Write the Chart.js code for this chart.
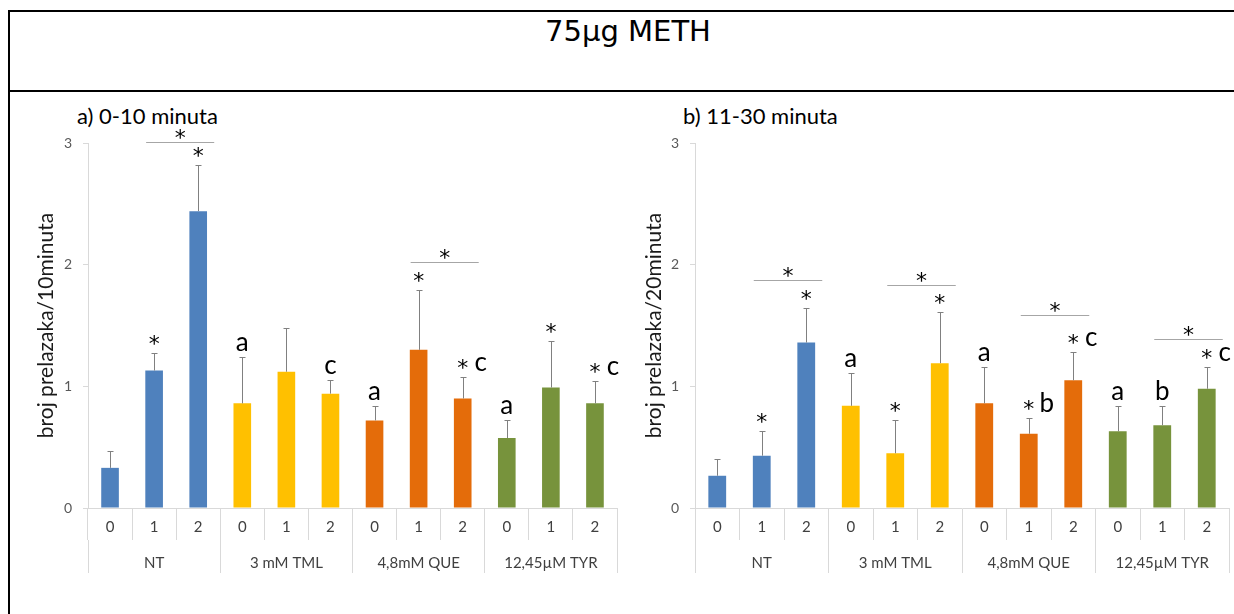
<!DOCTYPE html>
<html>
<head>
<meta charset="utf-8">
<script src="https://cdn.jsdelivr.net/npm/chart.js@4.4.1/dist/chart.umd.min.js"></script>
<style>
  html, body { margin: 0; padding: 0; background: #fff; }
  body { width: 1234px; height: 614px; position: relative; overflow: hidden;
         font-family: Lato, "Liberation Sans", sans-serif; }
  .rule { position: absolute; background: #000; }
  #title { position: absolute; left: 428px; width: 400px; top: 13px; line-height: 36px;
           text-align: center; font-family: "DejaVu Sans", sans-serif; font-size: 29px; color: #000; }
  .sub { position: absolute; top: 103px; font-size: 22px; line-height: 26px; color: #000; }
  canvas { position: absolute; }
</style>
</head>
<body>
<div class="rule" style="left:8px;top:10px;width:1226px;height:2px"></div>
<div class="rule" style="left:8px;top:90px;width:1226px;height:2px"></div>
<div class="rule" style="left:8px;top:10px;width:2px;height:604px"></div>
<div id="title">75µg METH</div>
<div class="sub" style="left:77px">a) 0-10 minuta</div>
<div class="sub" style="left:683px">b) 11-30 minuta</div>
<canvas id="chartA" width="612" height="521" style="left:10px;top:93px"></canvas>
<canvas id="chartB" width="612" height="521" style="left:622px;top:93px"></canvas>

<script>
// Categories: dose level within each treatment group
const subLabels = ['0', '1', '2', '0', '1', '2', '0', '1', '2', '0', '1', '2'];
const groupLabels = ['NT', '3 mM TML', '4,8mM QUE', '12,45µM TYR'];
const groupColors = ['#4f81bd', '#ffc000', '#e46c0a', '#77933c'];

// a) 0-10 minuta
const meansA = [0.33, 1.13, 2.44, 0.86, 1.12, 0.94, 0.72, 1.30, 0.90, 0.575, 0.99, 0.86];
const errA   = [0.14, 0.14, 0.38, 0.38, 0.36, 0.11, 0.12, 0.49, 0.18, 0.145, 0.38, 0.18];
const starsA   = [0, 1, 1, 0, 0, 0, 0, 1, 1, 0, 1, 1];
const lettersA = ['', '', '', 'a', '', 'c', 'a', '', 'c', 'a', '', 'c'];
const bracketsA = [[1, 2, 3.01], [7, 8, 2.02]];

// b) 11-30 minuta
const meansB = [0.265, 0.43, 1.36, 0.84, 0.45, 1.19, 0.86, 0.61, 1.05, 0.63, 0.68, 0.98];
const errB   = [0.135, 0.20, 0.28, 0.27, 0.27, 0.42, 0.30, 0.13, 0.23, 0.21, 0.16, 0.18];
const starsB   = [0, 1, 1, 0, 1, 1, 0, 1, 1, 0, 0, 1];
const lettersB = ['', '', '', 'a', '', '', 'a', 'b', 'c', 'a', 'b', 'c'];
const bracketsB = [[1, 2, 1.87], [4, 5, 1.83], [7, 8, 1.59], [10, 11, 1.39]];

const FONT = 'Lato, "Liberation Sans", sans-serif';
const STAR_FONT = '22px "DejaVu Sans", sans-serif';
Chart.defaults.font.family = FONT;

const barColors = subLabels.map((_, i) => groupColors[Math.floor(i / 3)]);

// Error bars, significance letters/asterisks and comparison brackets
function makeMarks(means, errs, stars, letters, brackets) {
  return {
    id: 'marks',
    afterDatasetsDraw(chart) {
      const ctx = chart.ctx;
      const y = chart.scales.y;
      const bars = chart.getDatasetMeta(0).data;
      ctx.save();
      ctx.textAlign = 'center';
      ctx.textBaseline = 'alphabetic';
      bars.forEach((bar, i) => {
        const top = Math.round(y.getPixelForValue(means[i] + errs[i])) + 0.5;
        const x = Math.round(bar.x) + 0.5;
        ctx.strokeStyle = '#808080';
        ctx.lineWidth = 1;
        ctx.beginPath();
        ctx.moveTo(x, bar.y);
        ctx.lineTo(x, top);
        ctx.moveTo(x - 3, top);
        ctx.lineTo(x + 3, top);
        ctx.stroke();

        ctx.fillStyle = '#000';
        if (stars[i]) {
          ctx.font = STAR_FONT;
          ctx.fillText('*', bar.x, top - 3);
        }
        if (letters[i]) {
          ctx.font = '26px ' + FONT;
          ctx.fillText(letters[i], stars[i] ? bar.x + 18 : bar.x, top - 7);
        }
      });
      brackets.forEach(([from, to, level]) => {
        const yy = Math.round(y.getPixelForValue(level)) + 0.5;
        const x1 = bars[from].x - 8, x2 = bars[to].x + 16;
        ctx.strokeStyle = '#a6a6a6';
        ctx.lineWidth = 1;
        ctx.beginPath();
        ctx.moveTo(x1, yy);
        ctx.lineTo(x2, yy);
        ctx.stroke();
        ctx.fillStyle = '#000';
        ctx.font = STAR_FONT;
        ctx.fillText('*', (x1 + x2) / 2, yy + 2);
      });
      ctx.restore();
    }
  };
}

function buildChart(id, means, errs, stars, letters, brackets, yTitle, padLeft, axisWidth) {
  return new Chart(document.getElementById(id), {
    type: 'bar',
    data: {
      labels: subLabels,
      datasets: [{
        data: means,
        backgroundColor: barColors,
        borderWidth: 0,
        barPercentage: 0.4,
        categoryPercentage: 1.0
      }]
    },
    options: {
      responsive: false,
      animation: false,
      events: [],
      layout: { padding: { left: padLeft, right: 5, top: 50, bottom: 38 } },
      plugins: { legend: { display: false }, tooltip: { enabled: false }, title: { display: false } },
      scales: {
        x: {
          type: 'category',
          offset: true,
          weight: 0,
          grid: { offset: true, drawOnChartArea: false, tickLength: 32, color: '#d9d9d9' },
          border: { color: '#d9d9d9' },
          ticks: { padding: -22, color: '#404040', font: { size: 15 }, maxRotation: 0, autoSkip: false },
          afterFit(scale) { scale.height = 32; }
        },
        x2: {
          type: 'category',
          axis: 'x',
          position: 'bottom',
          labels: groupLabels,
          offset: true,
          weight: 1,
          grid: { offset: true, drawOnChartArea: false, tickLength: 33, color: '#d9d9d9' },
          border: { display: false },
          ticks: { padding: -19, color: '#404040', font: { size: 15 }, maxRotation: 0, autoSkip: false },
          afterFit(scale) { scale.height = 36; }
        },
        y: {
          min: 0,
          max: 3,
          ticks: { stepSize: 1, padding: 11, color: '#595959', font: { size: 14 } },
          grid: { drawOnChartArea: false, tickLength: 5, color: '#d9d9d9' },
          border: { color: '#d9d9d9' },
          title: { display: true, text: yTitle, color: '#1a1a1a', font: { size: 21 }, padding: { top: 20, bottom: 0 } },
          afterFit(scale) { scale.width = axisWidth; }
        }
      }
    },
    plugins: [makeMarks(means, errs, stars, letters, brackets)]
  });
}

buildChart('chartA', meansA, errA, starsA, lettersA, bracketsA, 'broj prelazaka/10minuta', 4, 74);
buildChart('chartB', meansB, errB, starsB, lettersB, bracketsB, 'broj prelazaka/20minuta', 0, 73);
</script>
</body>
</html>
